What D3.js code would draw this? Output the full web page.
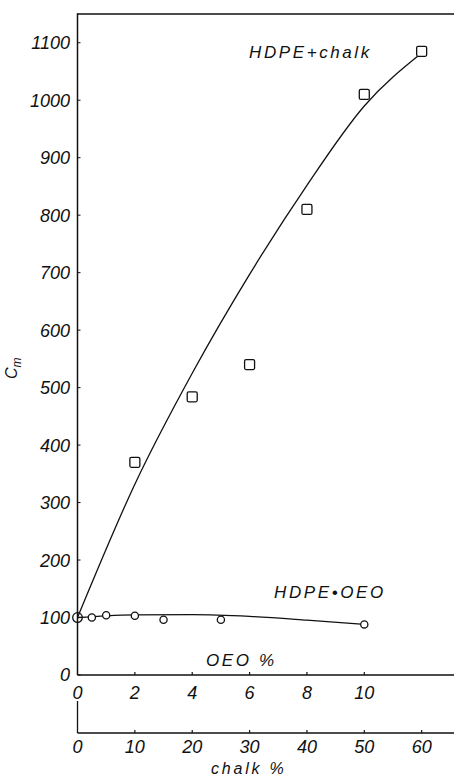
<!DOCTYPE html>
<html>
<head>
<meta charset="utf-8">
<script src="https://cdn.jsdelivr.net/npm/d3@7"></script>
<style>
  html, body { margin: 0; padding: 0; background: #fff; }
  svg { display: block; }
  text { font-family: "Liberation Sans", Arial, sans-serif; font-style: italic; fill: #111; }
</style>
</head>
<body>
<script>
// ---- data ----
const yTicks = [0, 100, 200, 300, 400, 500, 600, 700, 800, 900, 1000, 1100];
const oeoTicks = [0, 2, 4, 6, 8, 10];
const chalkTicks = [0, 10, 20, 30, 40, 50, 60];

// HDPE + chalk (x = chalk %)
const chalkPct = [10, 20, 30, 40, 50, 60];
const chalkCm  = [370, 484, 540, 810, 1010, 1085];
const chalkFitX = [0, 10, 20, 30, 40, 50, 60];
const chalkFitY = [100, 332, 525, 697, 852, 990, 1082];

// HDPE + OEO (x = OEO %)
const oeoPct = [0, 0.5, 1, 2, 3, 5, 10];
const oeoCm  = [100, 100, 104, 103, 96, 96, 88];
const oeoFitX = [0, 1, 2, 4, 6, 8, 10];
const oeoFitY = [100, 103, 104.5, 105, 102, 95.5, 88];

// ---- layout ----
const W = 454, H = 777;
const svg = d3.select("body").append("svg").attr("width", W).attr("height", H);

const x0 = 77.5, topY = 14, axisY = 675, axis2Y = 733, axis2Top = 701;
const y = d3.scaleLinear().domain([0, 1150]).range([axisY, topY]);
const xO = d3.scaleLinear().domain([0, 10]).range([x0, 364.3]);
const xC = d3.scaleLinear().domain([0, 50]).range([x0, 364.3]);

const ink = "#111";

// frame
svg.append("line").attr("x1", x0).attr("x2", W).attr("y1", topY).attr("y2", topY)
  .attr("stroke", ink).attr("stroke-width", 1.5);
svg.append("line").attr("x1", x0).attr("x2", x0).attr("y1", topY - 0.7).attr("y2", axisY)
  .attr("stroke", ink).attr("stroke-width", 1.5);
svg.append("line").attr("x1", x0).attr("x2", W).attr("y1", axisY).attr("y2", axisY)
  .attr("stroke", ink).attr("stroke-width", 1.5);
// second axis
svg.append("line").attr("x1", x0).attr("x2", x0).attr("y1", axis2Top).attr("y2", axis2Y)
  .attr("stroke", ink).attr("stroke-width", 1.3);
svg.append("line").attr("x1", x0).attr("x2", W).attr("y1", axis2Y).attr("y2", axis2Y)
  .attr("stroke", ink).attr("stroke-width", 1.5);

// y axis ticks & labels
const yAx = svg.append("g");
yAx.selectAll("line").data(yTicks).join("line")
  .attr("x1", x0).attr("x2", x0 + 3)
  .attr("y1", d => y(d)).attr("y2", d => y(d)).attr("stroke", ink).attr("stroke-width", 1);
yAx.selectAll("text").data(yTicks).join("text")
  .attr("x", 70).attr("y", d => y(d)).attr("dy", "0.36em")
  .attr("text-anchor", "end").attr("font-size", 18).text(d => d);

// OEO axis ticks & labels
const oAx = svg.append("g");
oAx.selectAll("line").data(oeoTicks.slice(1)).join("line")
  .attr("x1", d => xO(d)).attr("x2", d => xO(d))
  .attr("y1", axisY).attr("y2", axisY - 3).attr("stroke", ink).attr("stroke-width", 1.2);
oAx.selectAll("text").data(oeoTicks).join("text")
  .attr("x", d => xO(d)).attr("y", 698.5)
  .attr("text-anchor", "middle").attr("font-size", 18).text(d => d);

// chalk axis ticks & labels
const cAx = svg.append("g");
cAx.selectAll("line").data(chalkTicks.slice(1)).join("line")
  .attr("x1", d => xC(d)).attr("x2", d => xC(d))
  .attr("y1", axis2Y).attr("y2", axis2Y - 3).attr("stroke", ink).attr("stroke-width", 1.2);
cAx.selectAll("text").data(chalkTicks).join("text")
  .attr("x", d => xC(d)).attr("y", 753)
  .attr("text-anchor", "middle").attr("font-size", 18).text(d => d);

// axis titles
svg.append("text").attr("x", 206).attr("y", 666).attr("font-size", 17)
  .attr("letter-spacing", 2.6).text("OEO %");
svg.append("text").attr("x", 211).attr("y", 773.5).attr("font-size", 16)
  .attr("letter-spacing", 2.8).text("chalk %");

const cm = svg.append("text").attr("transform", "translate(17,379) rotate(-90)")
  .attr("font-size", 16);
cm.append("tspan").text("C");
cm.append("tspan").attr("font-size", 12).attr("dy", 4).text("m");

// series labels
svg.append("text").attr("x", 249).attr("y", 58).attr("font-size", 17)
  .attr("letter-spacing", 2.6).text("HDPE+chalk");
svg.append("text").attr("x", 274).attr("y", 598).attr("font-size", 17)
  .attr("letter-spacing", 2.6).text("HDPE•OEO");

// fitted curves
const lineC = d3.line().x(d => xC(d[0])).y(d => y(d[1])).curve(d3.curveMonotoneX);
svg.append("path").datum(d3.zip(chalkFitX, chalkFitY)).attr("d", lineC)
  .attr("fill", "none").attr("stroke", ink).attr("stroke-width", 1.3);
const lineO = d3.line().x(d => xO(d[0])).y(d => y(d[1])).curve(d3.curveMonotoneX);
svg.append("path").datum(d3.zip(oeoFitX, oeoFitY)).attr("d", lineO)
  .attr("fill", "none").attr("stroke", ink).attr("stroke-width", 1.3);

// markers
const s = 10;
svg.append("g").selectAll("rect").data(d3.zip(chalkPct, chalkCm)).join("rect")
  .attr("x", d => xC(d[0]) - s / 2).attr("y", d => y(d[1]) - s / 2)
  .attr("width", s).attr("height", s).attr("rx", 1.5)
  .attr("fill", "#fff").attr("stroke", ink).attr("stroke-width", 1.3);
svg.append("g").selectAll("circle").data(d3.zip(oeoPct, oeoCm)).join("circle")
  .attr("cx", d => xO(d[0])).attr("cy", d => y(d[1]))
  .attr("r", (d, i) => i === 0 ? 4.8 : 3.6)
  .attr("fill", (d, i) => i === 0 ? "none" : "#fff").attr("stroke", ink).attr("stroke-width", 1.3);
</script>
</body>
</html>
